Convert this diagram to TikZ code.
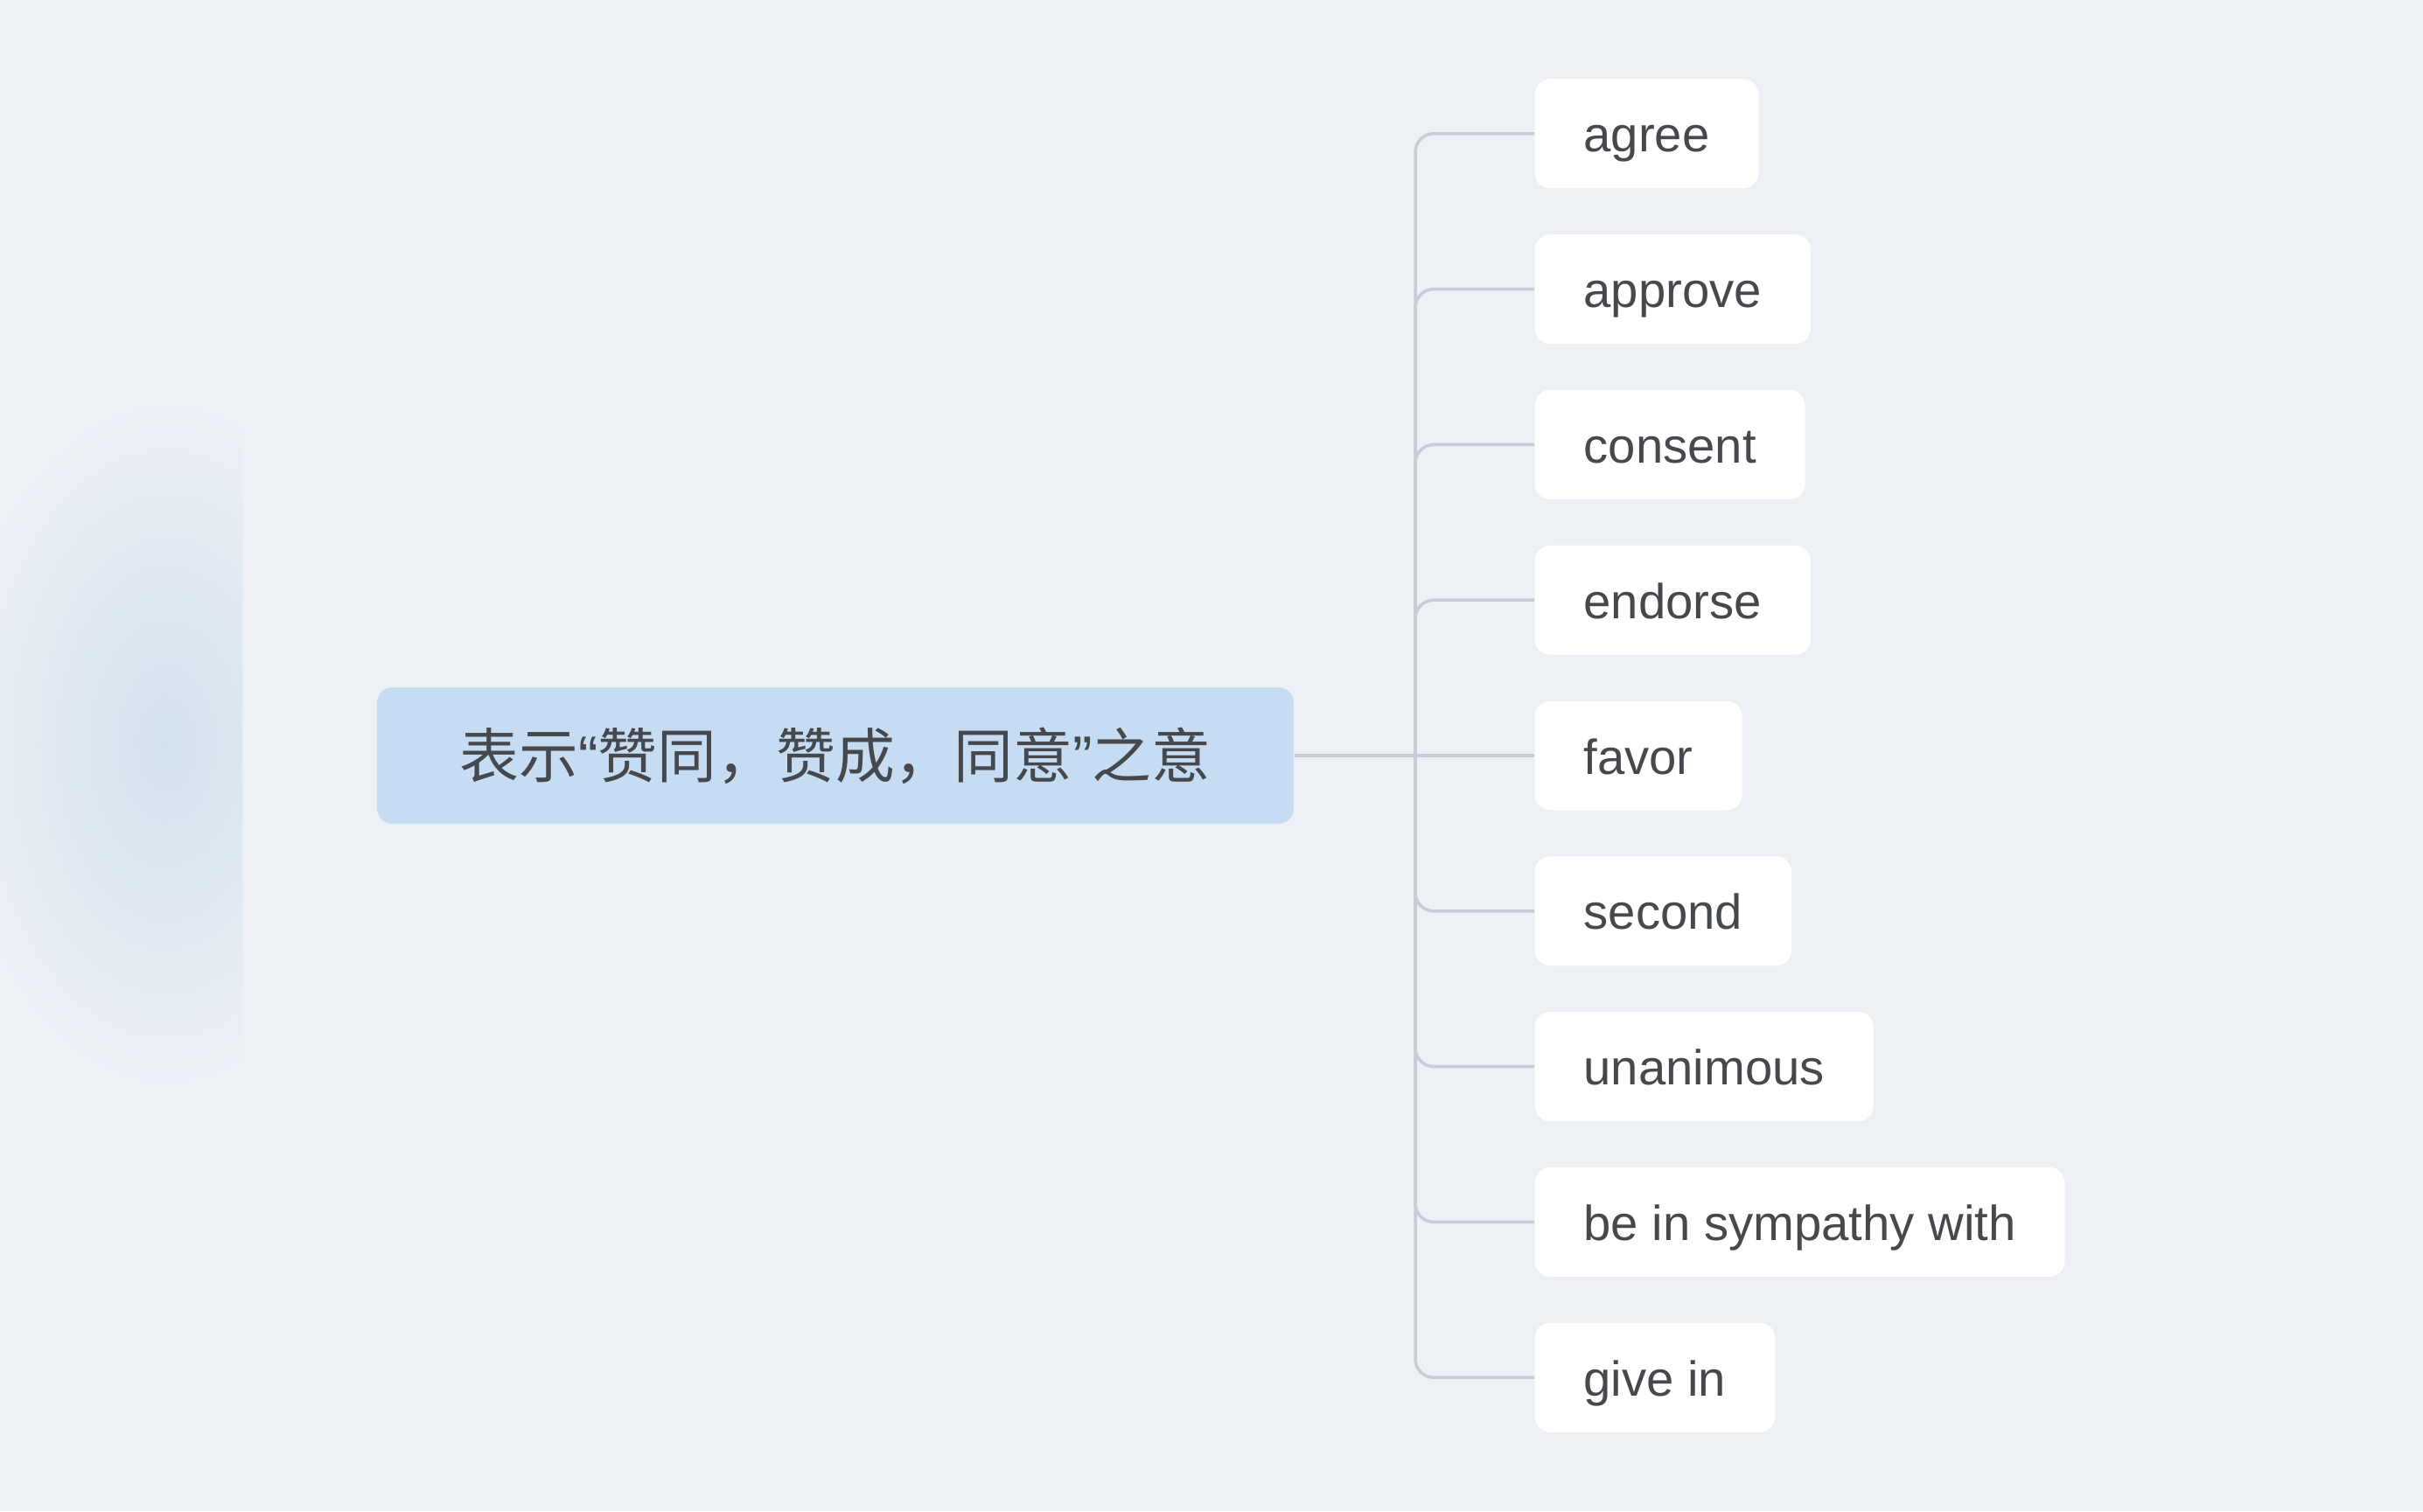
\documentclass[tikz,border=0pt]{standalone}
\usepackage{fontspec}
\setmainfont{Liberation Sans}
\newfontfamily\cjk{Noto Sans CJK SC}
\definecolor{bg}{HTML}{EDF1F6}
\definecolor{blob}{HTML}{D3E1EE}
\definecolor{rootblue}{HTML}{C6DCF2}
\definecolor{wirecol}{HTML}{C9CDD3}
\definecolor{ink}{HTML}{45484D}

\begin{document}
\begin{tikzpicture}[
  word/.style={fill=white,rounded corners=5pt,anchor=west,minimum height=1.25cm,inner xsep=0.56cm,text height=15.5pt,text depth=3.5pt,text=ink,font=\fontsize{16}{19}\selectfont},
  wire/.style={draw=wirecol,line width=1pt,rounded corners=6pt}]
\fill[bg] (0,0) rectangle (27.7,-17.28);
\useasboundingbox (0,0) rectangle (27.7,-17.28);
% soft blur on the left
\begin{scope}
\clip (0,-4.2) rectangle (2.77,-13.0);
\shade[inner color=blob,outer color=bg] (1.9,-8.5) ellipse (2.5 and 4.0);
\end{scope}
\node[fill=rootblue,rounded corners=5pt,minimum width=10.48cm,minimum height=1.56cm,text=ink,font=\fontsize{19.3}{22}\selectfont] (meaning) at (9.55,-8.64) {\cjk 表示\rmfamily“\cjk 赞同，赞成，同意\rmfamily”\cjk 之意};
\coordinate (hub) at (16.18,-8.64);
\foreach \i/\w in {1/agree,2/approve,3/consent,4/endorse,5/favor,6/second,7/unanimous,8/be in sympathy with,9/give in}
  \node[word] (w\i) at (17.54,{-8.64-(\i-5)*1.778}) {\w};
\draw[wire] (meaning) -- (w5);
\foreach \i in {1,2,3,4,6,7,8,9}
  \draw[wire] (hub) |- (w\i);
\end{tikzpicture}
\end{document}
